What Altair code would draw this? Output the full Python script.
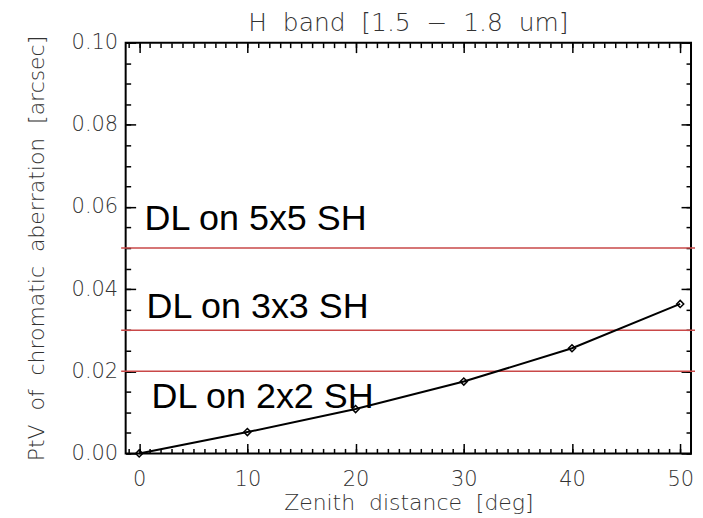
import altair as alt
import pandas as pd

# ---- data ----
zenith_deg = [0, 10, 20, 30, 40, 50]
ptv_arcsec = [0.0, 0.0052, 0.0108, 0.0175, 0.0256, 0.0364]

dl_levels = [0.05, 0.03, 0.02]
dl_labels = ["DL on 5x5 SH", "DL on 3x3 SH", "DL on 2x2 SH"]

x_major_ticks = [0, 10, 20, 30, 40, 50]
x_minor_ticks = [-1, 0, 1, 2, 3, 4, 5, 6, 7, 8, 9, 10, 11, 12, 13, 14, 15, 16, 17,
                 18, 19, 20, 21, 22, 23, 24, 25, 26, 27, 28, 29, 30, 31, 32, 33,
                 34, 35, 36, 37, 38, 39, 40, 41, 42, 43, 44, 45, 46, 47, 48, 49, 50]
y_major_ticks = [0.00, 0.02, 0.04, 0.06, 0.08, 0.10]
y_minor_ticks = [0.000, 0.005, 0.010, 0.015, 0.020, 0.025, 0.030, 0.035, 0.040,
                 0.045, 0.050, 0.055, 0.060, 0.065, 0.070, 0.075, 0.080, 0.085,
                 0.090, 0.095, 0.100]

x_domain = [-1.25, 51.0]
y_domain = [0.0, 0.1]

title_text = "H\u00a0\u00a0band\u00a0\u00a0[1.5\u00a0\u00a0\u2212\u00a0\u00a01.8\u00a0\u00a0um]"
x_title = "Zenith\u00a0\u00a0distance\u00a0\u00a0[deg]"
y_title = "PtV\u00a0\u00a0of\u00a0\u00a0chromatic\u00a0\u00a0aberration\u00a0\u00a0[arcsec]"

# ---- style ----
W, H = 567, 412
IDL_FONT = "DejaVu Sans"
IDL_COLOR = "#333333"
RED = "#c94848"

df = pd.DataFrame({"zenith": zenith_deg, "ptv": ptv_arcsec})
dl_df = pd.DataFrame({"level": dl_levels, "label": dl_labels})

xs = alt.Scale(domain=x_domain, nice=False, zero=False)
ys = alt.Scale(domain=y_domain, nice=False, zero=False)

base = alt.Chart(df)

line = base.mark_line(color="black", strokeWidth=2).encode(
    x=alt.X("zenith:Q", scale=xs,
            axis=alt.Axis(orient="bottom", values=x_major_ticks, format="d",
                          ticks=False, tickSize=0, domain=False, grid=False,
                          labelPadding=15, labelFlush=False, labelOverlap=False,
                          title=x_title, titlePadding=3)),
    y=alt.Y("ptv:Q", scale=ys,
            axis=alt.Axis(orient="left", values=y_major_ticks, format=".2f",
                          ticks=False, tickSize=0, domain=False, grid=False,
                          labelPadding=8, labelFlush=False, labelOverlap=False,
                          title=y_title, titlePadding=23)),
)

points = base.mark_point(shape="diamond", filled=False, size=50, strokeWidth=1.5,
                         color="black", opacity=1).encode(
    x=alt.X("zenith:Q", scale=xs, axis=None),
    y=alt.Y("ptv:Q", scale=ys, axis=None),
)


def tick_layer(xvals, yvals, xorient, yorient, size):
    return base.mark_point(opacity=0).encode(
        x=alt.X("zenith:Q", scale=xs,
                axis=alt.Axis(orient=xorient, offset=-H, values=xvals, labels=False,
                              domain=False, grid=False, ticks=True, tickSize=size,
                              tickWidth=1.5, tickColor="black", title=None)),
        y=alt.Y("ptv:Q", scale=ys,
                axis=alt.Axis(orient=yorient, offset=-W, values=yvals, labels=False,
                              domain=False, grid=False, ticks=True, tickSize=size,
                              tickWidth=1.5, tickColor="black", title=None)),
    )


ticks_a = tick_layer(x_major_ticks, y_major_ticks, "top", "right", 10)
ticks_b = tick_layer(x_major_ticks, y_major_ticks, "bottom", "left", 10)
ticks_c = tick_layer(x_minor_ticks, y_minor_ticks, "top", "right", 5)
ticks_d = tick_layer(x_minor_ticks, y_minor_ticks, "bottom", "left", 5)

rules = alt.Chart(dl_df).mark_rule(color=RED, strokeWidth=1.5).encode(
    y=alt.Y("level:Q", scale=ys, axis=None),
    x=alt.value(-4.5),
    x2=alt.value(W + 4),
)

text_x = [19, 21, 26]
text_dy = [-18, -12, 37]
texts = []
for i, lab in enumerate(dl_labels):
    texts.append(
        alt.Chart(dl_df[dl_df["label"] == lab]).mark_text(
            font="Liberation Sans", fontSize=36, color="black", align="left",
            baseline="alphabetic", dy=text_dy[i]
        ).encode(
            y=alt.Y("level:Q", scale=ys, axis=None),
            x=alt.value(text_x[i]),
            text="label:N",
        )
    )

chart = alt.layer(
    rules, line, points, ticks_a, ticks_b, ticks_c, ticks_d, *texts
).resolve_axis(
    x="independent", y="independent"
).properties(
    width=W, height=H,
    autosize=alt.AutoSizeParams(type="none"),
    padding={"left": 118, "top": 34, "right": 4, "bottom": 62},
    title=alt.TitleParams(title_text, font=IDL_FONT, fontSize=25, fontWeight=200,
                          color=IDL_COLOR, anchor="middle", offset=8, dy=12),
).configure_view(
    stroke="black", strokeWidth=2
).configure_axis(
    labelFont=IDL_FONT, labelFontSize=21, labelColor=IDL_COLOR, labelFontWeight=200,
    titleFont=IDL_FONT, titleFontSize=22, titleColor=IDL_COLOR, titleFontWeight=200,
)

chart.save("out.html", embed_options={"renderer": "svg", "actions": False})
